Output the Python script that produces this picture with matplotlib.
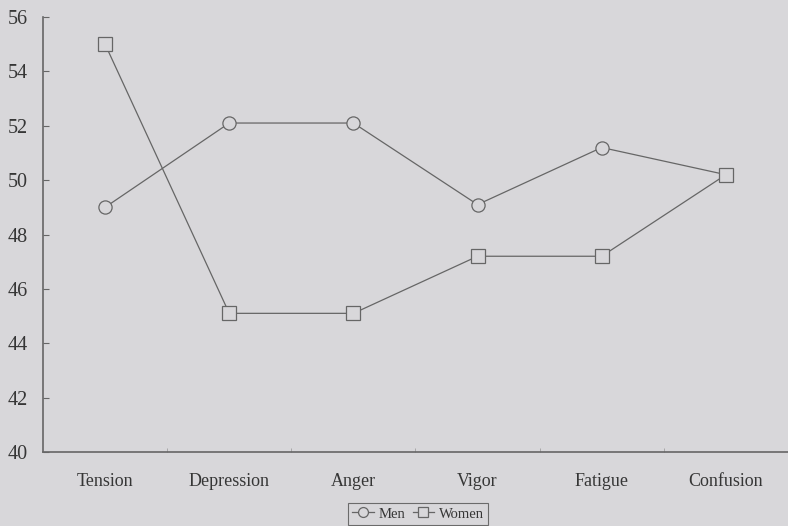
import matplotlib
matplotlib.use("Agg")
import matplotlib.pyplot as plt
from matplotlib.ticker import FixedLocator

categories = ["Tension", "Depression", "Anger", "Vigor", "Fatigue", "Confusion"]
men = [49.0, 52.1, 52.1, 49.1, 51.2, 50.2]
women = [55.0, 45.1, 45.1, 47.2, 47.2, 50.2]
y_ticks = [40, 42, 44, 46, 48, 50, 52, 54, 56]

bg = "#d8d7da"
line_c = "#666666"
text_c = "#363636"

plt.rcParams["font.family"] = ["Liberation Serif", "DejaVu Serif"]

fig = plt.figure(figsize=(7.88, 5.26), dpi=100, facecolor=bg)
ax = fig.add_axes([43/788, 1-452/526, 1-43/788, (452-17)/526])
ax.set_facecolor(bg)

x = list(range(len(categories)))
ax.plot(x, men, color=line_c, lw=0.9, marker="o", ms=9.5, mfc=bg, mec=line_c, mew=0.9, label="Men")
ax.plot(x, women, color=line_c, lw=0.9, marker="s", ms=9.5, mfc=bg, mec=line_c, mew=0.9, label="Women")

ax.set_xlim(-0.5, len(categories) - 0.5)
ax.set_ylim(40, 56)
ax.set_yticks(y_ticks)
ax.set_xticks(x)
ax.set_xticklabels(categories)
ax.xaxis.set_minor_locator(FixedLocator([i + 0.5 for i in range(len(categories) - 1)]))

for s in ["top", "right"]:
    ax.spines[s].set_visible(False)
for s in ["left", "bottom"]:
    ax.spines[s].set_color(line_c)
    ax.spines[s].set_linewidth(1.2)

ax.tick_params(axis="y", direction="in", length=4, width=0.8, color=line_c,
               labelsize=14.5, labelcolor=text_c, pad=11)
ax.tick_params(axis="x", which="major", length=0, labelsize=13, labelcolor=text_c, pad=15)
ax.tick_params(axis="x", which="minor", direction="in", length=3, width=0.6, color="#a0a0a0")

leg = fig.legend(loc="upper center", bbox_to_anchor=(418/788, 1-503/526), ncol=2,
                 frameon=True, fancybox=False, fontsize=10.5, handlelength=1.5,
                 handletextpad=0.3, columnspacing=0.5, borderpad=0.3, borderaxespad=0,
                 markerscale=0.75)
leg.get_frame().set_edgecolor("#505050")
leg.get_frame().set_facecolor(bg)
leg.get_frame().set_linewidth(0.8)
for t in leg.get_texts():
    t.set_color(text_c)

fig.savefig("out.png", dpi=100, facecolor=bg)
